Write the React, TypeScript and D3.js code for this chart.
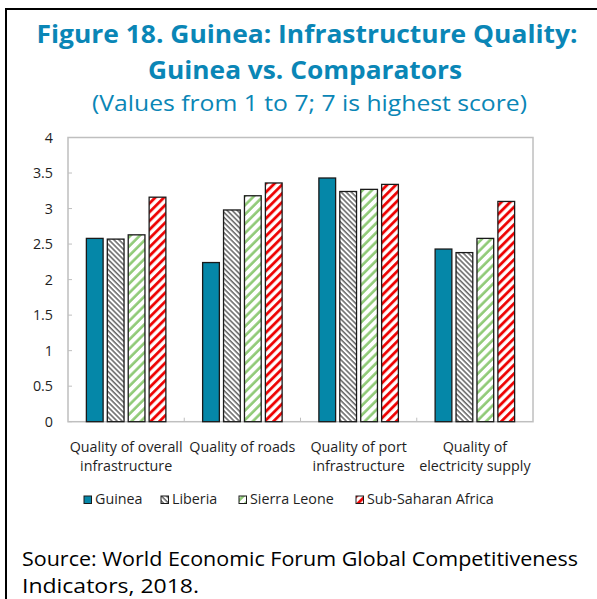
import React from "react";
import * as d3 from "d3";

const categories = [
  ["Quality of overall", "infrastructure"],
  ["Quality of roads"],
  ["Quality of port", "infrastructure"],
  ["Quality of", "electricity supply"],
];
const seriesNames = ["Guinea", "Liberia", "Sierra Leone", "Sub-Saharan Africa"];
const guinea = [2.58, 2.24, 3.43, 2.43];
const liberia = [2.57, 2.98, 3.24, 2.38];
const sierraLeone = [2.63, 3.18, 3.27, 2.58];
const ssa = [3.16, 3.36, 3.34, 3.1];
const yTicks = [0, 0.5, 1, 1.5, 2, 2.5, 3, 3.5, 4];
const yTickLabels = ["0", "0.5", "1", "1.5", "2", "2.5", "3", "3.5", "4"];

const titleLines = ["Figure 18. Guinea: Infrastructure Quality:", "Guinea vs. Comparators"];
const subtitle = "(Values from 1 to 7; 7 is highest score)";
const sourceLines = ["Source: World Economic Forum Global Competitiveness", "Indicators, 2018."];

const W = 597, H = 599;
const plot = { left: 68, right: 533, top: 137.5, bottom: 421.7 };
const FONT = "'Open Sans', 'Noto Sans', sans-serif";
const BLUE = "#0a86b6";
const fills = ["#0587a8", "url(#pLib)", "url(#pSL)", "url(#pSSA)"];
const legendX = [84, 161, 239, 356];

export default function App() {
  const values = [guinea, liberia, sierraLeone, ssa];
  const x0 = d3.scaleBand<number>().domain(d3.range(categories.length)).range([plot.left, plot.right]).padding(0);
  const blockW = 79.5;
  const x1 = d3.scaleBand<number>().domain(d3.range(seriesNames.length)).range([0, blockW]).paddingInner(0.2).paddingOuter(0);
  const y = d3.scaleLinear().domain([0, 4]).range([plot.bottom, plot.top]);
  const off = (x0.bandwidth() - blockW) / 2;
  const axisColor = "#bfbfbf";
  const textColor = "#1f1f1f";

  return (
    <div style={{ position: "absolute", left: 0, top: 0 }}>
      <svg width={W} height={H} style={{ display: "block", background: "#fff" }}>
        <defs>
          <pattern id="pLib" patternUnits="userSpaceOnUse" width="3.6" height="3.6" patternTransform="rotate(-45)">
            <rect width="3.6" height="3.6" fill="#fff" />
            <line x1="1" y1="0" x2="1" y2="3.6" stroke="#4a4a4a" strokeWidth="1.3" />
          </pattern>
          <pattern id="pSL" patternUnits="userSpaceOnUse" width="6.6" height="6.6" patternTransform="rotate(45)">
            <rect width="6.6" height="6.6" fill="#fff" />
            <line x1="1.5" y1="0" x2="1.5" y2="6.6" stroke="#8fca76" strokeWidth="2.6" />
          </pattern>
          <pattern id="pSSA" patternUnits="userSpaceOnUse" width="6.2" height="6.2" patternTransform="rotate(45)">
            <rect width="6.2" height="6.2" fill="#fff" />
            <line x1="1.5" y1="0" x2="1.5" y2="6.2" stroke="#ee0000" strokeWidth="2.8" />
          </pattern>
        </defs>

        {/* frame */}
        <line x1={6} y1={9} x2={W} y2={9} stroke="#000" strokeWidth={2} />
        <line x1={6} y1={8} x2={6} y2={H} stroke="#000" strokeWidth={2} />

        {/* titles */}
        <text x={307} y={43} textAnchor="middle" fill={BLUE} fontFamily={FONT} fontWeight={700} fontSize={25} textLength={541} lengthAdjust="spacingAndGlyphs">{titleLines[0]}</text>
        <text x={305} y={79} textAnchor="middle" fill={BLUE} fontFamily={FONT} fontWeight={700} fontSize={25} textLength={314} lengthAdjust="spacingAndGlyphs">{titleLines[1]}</text>
        <text x={309.5} y={111} textAnchor="middle" fill={BLUE} fontFamily={FONT} fontWeight={400} fontSize={22.5} textLength={435} lengthAdjust="spacingAndGlyphs">{subtitle}</text>

        {/* plot border */}
        <rect x={plot.left} y={plot.top} width={plot.right - plot.left} height={plot.bottom - plot.top} fill="none" stroke={axisColor} strokeWidth={1.5} />

        {/* y ticks */}
        {yTicks.map((t, i) => (
          <g key={i}>
            <line x1={plot.left} x2={plot.left + 4} y1={y(t)} y2={y(t)} stroke={axisColor} strokeWidth={1} />
            <text x={53} y={y(t) + 5} textAnchor="end" fontFamily={FONT} fontSize={14.3} fill={textColor}>{yTickLabels[i]}</text>
          </g>
        ))}
        {/* x separators */}
        {d3.range(1, categories.length).map((i) => (
          <line key={i} x1={x0(i)!} x2={x0(i)!} y1={plot.bottom} y2={plot.bottom - 4} stroke={axisColor} strokeWidth={1} />
        ))}

        {/* bars */}
        {values.map((vals, s) =>
          vals.map((v, c) => (
            <rect key={`${s}-${c}`} x={x0(c)! + off + x1(s)!} y={y(v)} width={x1.bandwidth()} height={y(0) - y(v)}
              fill={fills[s]} stroke="#1a1a1a" strokeWidth={1.3} />
          ))
        )}

        {/* category labels */}
        {categories.map((lines, c) => (
          <text key={c} textAnchor="middle" fontFamily={FONT} fontSize={14.3} fill={textColor}>
            {lines.map((l, j) => (
              <tspan key={j} x={x0(c)! + x0.bandwidth() / 2} y={451.5 + j * 19}>{l}</tspan>
            ))}
          </text>
        ))}

        {/* legend */}
        {seriesNames.map((n, s) => (
          <g key={s}>
            <rect x={legendX[s]} y={496} width={7.5} height={7.5} fill={fills[s]} stroke="#1a1a1a" strokeWidth={1} />
            <text x={legendX[s] + 11} y={504} fontFamily={FONT} fontSize={14.3} fill={textColor}>{n}</text>
          </g>
        ))}

        {/* source */}
        <text x={22} y={566} fontFamily={FONT} fontSize={20.5} fill="#000" textLength={556} lengthAdjust="spacingAndGlyphs">{sourceLines[0]}</text>
        <text x={22} y={593} fontFamily={FONT} fontSize={20.5} fill="#000" textLength={177} lengthAdjust="spacingAndGlyphs">{sourceLines[1]}</text>
      </svg>
    </div>
  );
}
